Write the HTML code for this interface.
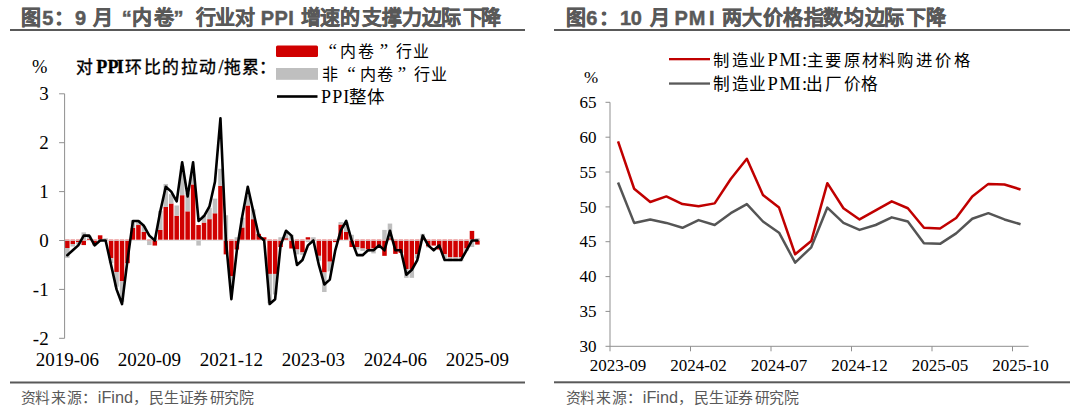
<!DOCTYPE html>
<html lang="zh-CN"><head><meta charset="utf-8">
<style>
html,body{margin:0;padding:0;background:#fff;}
body{width:1080px;height:415px;overflow:hidden;position:relative;}
svg{position:absolute;left:0;top:0;}
.t{font-family:"Liberation Sans",sans-serif;font-weight:bold;fill:#595959;}
.s{font-family:"Liberation Serif",serif;fill:#000;}
.f{font-family:"Liberation Sans",sans-serif;fill:#595959;}
</style></head><body>
<svg width="1080" height="415" viewBox="0 0 1080 415">
<rect x="0" y="0" width="1080" height="415" fill="#fff"/>

<rect x="10" y="29" width="515" height="2" fill="#595959"/>
<rect x="554" y="29" width="516" height="2" fill="#595959"/>
<rect x="10" y="381.5" width="515" height="2" fill="#595959"/>
<rect x="554" y="381.3" width="516" height="2" fill="#595959"/>
<rect x="65.08" y="239.70" width="4.5" height="8.31" fill="#d00000"/>
<rect x="65.08" y="248.01" width="4.5" height="9.78" fill="#bfbfbf"/>
<rect x="70.55" y="239.70" width="4.5" height="4.40" fill="#d00000"/>
<rect x="70.55" y="244.10" width="4.5" height="2.45" fill="#bfbfbf"/>
<rect x="76.02" y="239.70" width="4.5" height="2.45" fill="#d00000"/>
<rect x="76.02" y="242.14" width="4.5" height="2.45" fill="#bfbfbf"/>
<rect x="81.49" y="239.70" width="4.5" height="5.38" fill="#d00000"/>
<rect x="81.49" y="232.36" width="4.5" height="7.33" fill="#bfbfbf"/>
<rect x="86.96" y="238.72" width="4.5" height="0.98" fill="#d00000"/>
<rect x="86.96" y="235.79" width="4.5" height="2.93" fill="#bfbfbf"/>
<rect x="92.42" y="239.70" width="4.5" height="4.89" fill="#d00000"/>
<rect x="92.42" y="244.59" width="4.5" height="0.98" fill="#bfbfbf"/>
<rect x="97.89" y="235.30" width="4.5" height="4.40" fill="#d00000"/>
<rect x="97.89" y="239.70" width="4.5" height="1.96" fill="#bfbfbf"/>
<rect x="103.36" y="239.70" width="4.5" height="0.98" fill="#d00000"/>
<rect x="103.36" y="238.23" width="4.5" height="1.47" fill="#bfbfbf"/>
<rect x="108.83" y="239.70" width="4.5" height="18.58" fill="#d00000"/>
<rect x="108.83" y="258.28" width="4.5" height="4.89" fill="#bfbfbf"/>
<rect x="114.30" y="239.70" width="4.5" height="32.27" fill="#d00000"/>
<rect x="114.30" y="271.97" width="4.5" height="14.67" fill="#bfbfbf"/>
<rect x="119.76" y="239.70" width="4.5" height="41.56" fill="#d00000"/>
<rect x="119.76" y="281.26" width="4.5" height="20.54" fill="#bfbfbf"/>
<rect x="125.23" y="239.70" width="4.5" height="23.47" fill="#d00000"/>
<rect x="125.23" y="239.70" width="4.5" height="0.00" fill="#bfbfbf"/>
<rect x="130.70" y="227.96" width="4.5" height="11.74" fill="#d00000"/>
<rect x="130.70" y="220.14" width="4.5" height="7.82" fill="#bfbfbf"/>
<rect x="136.17" y="225.03" width="4.5" height="14.67" fill="#d00000"/>
<rect x="136.17" y="220.14" width="4.5" height="4.89" fill="#bfbfbf"/>
<rect x="141.64" y="231.88" width="4.5" height="7.82" fill="#d00000"/>
<rect x="141.64" y="226.01" width="4.5" height="5.87" fill="#bfbfbf"/>
<rect x="147.10" y="239.70" width="4.5" height="1.47" fill="#d00000"/>
<rect x="147.10" y="241.17" width="4.5" height="3.91" fill="#bfbfbf"/>
<rect x="152.57" y="239.70" width="4.5" height="5.87" fill="#d00000"/>
<rect x="152.57" y="238.23" width="4.5" height="1.47" fill="#bfbfbf"/>
<rect x="158.04" y="229.92" width="4.5" height="9.78" fill="#d00000"/>
<rect x="158.04" y="210.85" width="4.5" height="19.07" fill="#bfbfbf"/>
<rect x="163.51" y="206.94" width="4.5" height="32.76" fill="#d00000"/>
<rect x="163.51" y="183.95" width="4.5" height="22.98" fill="#bfbfbf"/>
<rect x="168.98" y="203.51" width="4.5" height="36.19" fill="#d00000"/>
<rect x="168.98" y="194.22" width="4.5" height="9.29" fill="#bfbfbf"/>
<rect x="174.44" y="215.74" width="4.5" height="23.96" fill="#d00000"/>
<rect x="174.44" y="205.47" width="4.5" height="10.27" fill="#bfbfbf"/>
<rect x="179.91" y="195.20" width="4.5" height="44.50" fill="#d00000"/>
<rect x="179.91" y="165.86" width="4.5" height="29.34" fill="#bfbfbf"/>
<rect x="185.38" y="211.34" width="4.5" height="28.36" fill="#d00000"/>
<rect x="185.38" y="192.76" width="4.5" height="18.58" fill="#bfbfbf"/>
<rect x="190.85" y="184.44" width="4.5" height="55.26" fill="#d00000"/>
<rect x="190.85" y="173.69" width="4.5" height="10.76" fill="#bfbfbf"/>
<rect x="196.32" y="225.03" width="4.5" height="14.67" fill="#d00000"/>
<rect x="196.32" y="239.70" width="4.5" height="5.87" fill="#bfbfbf"/>
<rect x="201.78" y="222.58" width="4.5" height="17.11" fill="#d00000"/>
<rect x="201.78" y="215.25" width="4.5" height="7.33" fill="#bfbfbf"/>
<rect x="207.25" y="219.16" width="4.5" height="20.54" fill="#d00000"/>
<rect x="207.25" y="207.91" width="4.5" height="11.25" fill="#bfbfbf"/>
<rect x="212.72" y="213.29" width="4.5" height="26.41" fill="#d00000"/>
<rect x="212.72" y="198.62" width="4.5" height="14.67" fill="#bfbfbf"/>
<rect x="218.19" y="185.91" width="4.5" height="53.79" fill="#d00000"/>
<rect x="218.19" y="168.79" width="4.5" height="17.11" fill="#bfbfbf"/>
<rect x="223.66" y="239.70" width="4.5" height="14.67" fill="#d00000"/>
<rect x="223.66" y="215.25" width="4.5" height="24.45" fill="#bfbfbf"/>
<rect x="229.12" y="239.70" width="4.5" height="36.67" fill="#d00000"/>
<rect x="229.12" y="276.38" width="4.5" height="9.78" fill="#bfbfbf"/>
<rect x="234.59" y="239.70" width="4.5" height="9.78" fill="#d00000"/>
<rect x="234.59" y="237.25" width="4.5" height="2.45" fill="#bfbfbf"/>
<rect x="240.06" y="227.47" width="4.5" height="12.22" fill="#d00000"/>
<rect x="240.06" y="217.69" width="4.5" height="9.78" fill="#bfbfbf"/>
<rect x="245.53" y="205.47" width="4.5" height="34.23" fill="#d00000"/>
<rect x="245.53" y="195.69" width="4.5" height="9.78" fill="#bfbfbf"/>
<rect x="251.00" y="219.16" width="4.5" height="20.54" fill="#d00000"/>
<rect x="251.00" y="209.38" width="4.5" height="9.78" fill="#bfbfbf"/>
<rect x="256.46" y="233.83" width="4.5" height="5.87" fill="#d00000"/>
<rect x="256.46" y="233.83" width="4.5" height="0.00" fill="#bfbfbf"/>
<rect x="261.93" y="237.25" width="4.5" height="2.45" fill="#d00000"/>
<rect x="261.93" y="237.25" width="4.5" height="0.00" fill="#bfbfbf"/>
<rect x="267.40" y="239.70" width="4.5" height="34.23" fill="#d00000"/>
<rect x="267.40" y="273.93" width="4.5" height="29.34" fill="#bfbfbf"/>
<rect x="272.87" y="239.70" width="4.5" height="34.23" fill="#d00000"/>
<rect x="272.87" y="273.93" width="4.5" height="20.54" fill="#bfbfbf"/>
<rect x="278.34" y="239.70" width="4.5" height="7.33" fill="#d00000"/>
<rect x="278.34" y="237.25" width="4.5" height="2.45" fill="#bfbfbf"/>
<rect x="283.80" y="238.23" width="4.5" height="1.47" fill="#d00000"/>
<rect x="283.80" y="231.88" width="4.5" height="6.36" fill="#bfbfbf"/>
<rect x="289.27" y="239.70" width="4.5" height="8.80" fill="#d00000"/>
<rect x="289.27" y="234.81" width="4.5" height="4.89" fill="#bfbfbf"/>
<rect x="294.74" y="239.70" width="4.5" height="9.78" fill="#d00000"/>
<rect x="294.74" y="249.48" width="4.5" height="4.89" fill="#bfbfbf"/>
<rect x="300.21" y="239.70" width="4.5" height="12.71" fill="#d00000"/>
<rect x="300.21" y="252.41" width="4.5" height="2.45" fill="#bfbfbf"/>
<rect x="305.68" y="237.25" width="4.5" height="2.45" fill="#d00000"/>
<rect x="305.68" y="239.70" width="4.5" height="2.45" fill="#bfbfbf"/>
<rect x="311.14" y="239.70" width="4.5" height="0.98" fill="#d00000"/>
<rect x="311.14" y="237.25" width="4.5" height="2.45" fill="#bfbfbf"/>
<rect x="316.61" y="239.70" width="4.5" height="16.14" fill="#d00000"/>
<rect x="316.61" y="255.84" width="4.5" height="4.89" fill="#bfbfbf"/>
<rect x="322.08" y="239.70" width="4.5" height="32.76" fill="#d00000"/>
<rect x="322.08" y="272.46" width="4.5" height="19.56" fill="#bfbfbf"/>
<rect x="327.55" y="239.70" width="4.5" height="22.00" fill="#d00000"/>
<rect x="327.55" y="261.70" width="4.5" height="9.78" fill="#bfbfbf"/>
<rect x="333.02" y="239.70" width="4.5" height="2.45" fill="#d00000"/>
<rect x="333.02" y="239.70" width="4.5" height="0.00" fill="#bfbfbf"/>
<rect x="338.48" y="224.54" width="4.5" height="15.16" fill="#d00000"/>
<rect x="338.48" y="222.10" width="4.5" height="2.45" fill="#bfbfbf"/>
<rect x="343.95" y="231.88" width="4.5" height="7.82" fill="#d00000"/>
<rect x="343.95" y="222.10" width="4.5" height="9.78" fill="#bfbfbf"/>
<rect x="349.42" y="239.70" width="4.5" height="7.33" fill="#d00000"/>
<rect x="349.42" y="234.81" width="4.5" height="4.89" fill="#bfbfbf"/>
<rect x="354.89" y="239.70" width="4.5" height="7.33" fill="#d00000"/>
<rect x="354.89" y="247.03" width="4.5" height="2.45" fill="#bfbfbf"/>
<rect x="360.36" y="239.70" width="4.5" height="8.80" fill="#d00000"/>
<rect x="360.36" y="248.50" width="4.5" height="2.45" fill="#bfbfbf"/>
<rect x="365.82" y="239.70" width="4.5" height="9.78" fill="#d00000"/>
<rect x="365.82" y="249.48" width="4.5" height="2.45" fill="#bfbfbf"/>
<rect x="371.29" y="239.70" width="4.5" height="8.80" fill="#d00000"/>
<rect x="371.29" y="248.50" width="4.5" height="4.89" fill="#bfbfbf"/>
<rect x="376.76" y="239.70" width="4.5" height="7.33" fill="#d00000"/>
<rect x="376.76" y="239.70" width="4.5" height="0.00" fill="#bfbfbf"/>
<rect x="382.23" y="239.70" width="4.5" height="16.14" fill="#d00000"/>
<rect x="382.23" y="229.92" width="4.5" height="9.78" fill="#bfbfbf"/>
<rect x="387.70" y="238.23" width="4.5" height="1.47" fill="#d00000"/>
<rect x="387.70" y="223.56" width="4.5" height="14.67" fill="#bfbfbf"/>
<rect x="393.16" y="239.70" width="4.5" height="14.18" fill="#d00000"/>
<rect x="393.16" y="239.70" width="4.5" height="0.00" fill="#bfbfbf"/>
<rect x="398.63" y="239.70" width="4.5" height="13.20" fill="#d00000"/>
<rect x="398.63" y="239.70" width="4.5" height="0.00" fill="#bfbfbf"/>
<rect x="404.10" y="239.70" width="4.5" height="29.34" fill="#d00000"/>
<rect x="404.10" y="269.04" width="4.5" height="8.80" fill="#bfbfbf"/>
<rect x="409.57" y="239.70" width="4.5" height="29.34" fill="#d00000"/>
<rect x="409.57" y="269.04" width="4.5" height="8.80" fill="#bfbfbf"/>
<rect x="415.04" y="239.70" width="4.5" height="14.67" fill="#d00000"/>
<rect x="415.04" y="254.37" width="4.5" height="3.91" fill="#bfbfbf"/>
<rect x="420.50" y="238.72" width="4.5" height="0.98" fill="#d00000"/>
<rect x="420.50" y="233.83" width="4.5" height="4.89" fill="#bfbfbf"/>
<rect x="425.97" y="239.70" width="4.5" height="6.85" fill="#d00000"/>
<rect x="425.97" y="246.55" width="4.5" height="0.98" fill="#bfbfbf"/>
<rect x="431.44" y="239.70" width="4.5" height="5.87" fill="#d00000"/>
<rect x="431.44" y="239.70" width="4.5" height="0.00" fill="#bfbfbf"/>
<rect x="436.91" y="239.70" width="4.5" height="9.78" fill="#d00000"/>
<rect x="436.91" y="239.70" width="4.5" height="0.00" fill="#bfbfbf"/>
<rect x="442.38" y="239.70" width="4.5" height="14.67" fill="#d00000"/>
<rect x="442.38" y="254.37" width="4.5" height="3.91" fill="#bfbfbf"/>
<rect x="447.84" y="239.70" width="4.5" height="17.60" fill="#d00000"/>
<rect x="447.84" y="257.30" width="4.5" height="3.91" fill="#bfbfbf"/>
<rect x="453.31" y="239.70" width="4.5" height="17.60" fill="#d00000"/>
<rect x="453.31" y="257.30" width="4.5" height="3.91" fill="#bfbfbf"/>
<rect x="458.78" y="239.70" width="4.5" height="17.60" fill="#d00000"/>
<rect x="458.78" y="257.30" width="4.5" height="3.91" fill="#bfbfbf"/>
<rect x="464.25" y="239.70" width="4.5" height="8.80" fill="#d00000"/>
<rect x="464.25" y="248.50" width="4.5" height="2.45" fill="#bfbfbf"/>
<rect x="469.72" y="230.90" width="4.5" height="8.80" fill="#d00000"/>
<rect x="469.72" y="239.70" width="4.5" height="7.33" fill="#bfbfbf"/>
<rect x="475.18" y="239.70" width="4.5" height="4.89" fill="#d00000"/>
<rect x="475.18" y="238.23" width="4.5" height="1.47" fill="#bfbfbf"/>
<line x1="64.6" y1="240.5" x2="480.2" y2="240.5" stroke="#d9d9d9" stroke-width="0.8"/>
<line x1="64.6" y1="93.8" x2="64.6" y2="338.3" stroke="#8f8f8f" stroke-width="1"/>
<line x1="59.099999999999994" y1="93.8" x2="64.6" y2="93.8" stroke="#8f8f8f" stroke-width="1"/>
<text class="s" x="48.7" y="100.2" font-size="19" text-anchor="end">3</text>
<line x1="59.099999999999994" y1="142.7" x2="64.6" y2="142.7" stroke="#8f8f8f" stroke-width="1"/>
<text class="s" x="48.7" y="149.1" font-size="19" text-anchor="end">2</text>
<line x1="59.099999999999994" y1="191.6" x2="64.6" y2="191.6" stroke="#8f8f8f" stroke-width="1"/>
<text class="s" x="48.7" y="198.0" font-size="19" text-anchor="end">1</text>
<line x1="59.099999999999994" y1="240.5" x2="64.6" y2="240.5" stroke="#8f8f8f" stroke-width="1"/>
<text class="s" x="48.7" y="246.9" font-size="19" text-anchor="end">0</text>
<line x1="59.099999999999994" y1="289.4" x2="64.6" y2="289.4" stroke="#8f8f8f" stroke-width="1"/>
<text class="s" x="48.7" y="295.8" font-size="19" text-anchor="end">-1</text>
<line x1="59.099999999999994" y1="338.3" x2="64.6" y2="338.3" stroke="#8f8f8f" stroke-width="1"/>
<text class="s" x="48.7" y="344.7" font-size="19" text-anchor="end">-2</text>
<text class="s" x="32" y="73" font-size="18.5">%</text>
<polyline points="67.33,255.17 72.80,250.28 78.27,245.39 83.74,235.61 89.21,235.61 94.67,245.39 100.14,240.50 105.61,240.50 111.08,264.95 116.55,289.40 122.01,304.07 127.48,260.06 132.95,220.94 138.42,220.94 143.89,225.83 149.35,235.61 154.82,240.50 160.29,211.16 165.76,186.71 171.23,191.60 176.69,201.38 182.16,162.26 187.63,196.49 193.10,162.26 198.57,220.94 204.03,216.05 209.50,206.27 214.97,181.82 220.44,118.25 225.91,240.50 231.37,299.18 236.84,250.28 242.31,216.05 247.78,186.71 253.25,211.16 258.71,235.61 264.18,240.50 269.65,304.07 275.12,299.18 280.59,245.39 286.05,230.72 291.52,235.61 296.99,264.95 302.46,260.06 307.93,245.39 313.39,240.50 318.86,264.95 324.33,284.51 329.80,279.62 335.27,250.28 340.73,230.72 346.20,220.94 351.67,240.50 357.14,255.17 362.61,255.17 368.07,250.28 373.54,250.28 379.01,245.39 384.48,250.28 389.95,230.72 395.41,250.28 400.88,250.28 406.35,274.73 411.82,269.84 417.29,260.06 422.75,235.61 428.22,245.39 433.69,250.28 439.16,245.39 444.63,260.06 450.09,260.06 455.56,260.06 461.03,260.06 466.50,250.28 471.97,240.50 477.43,240.50" fill="none" stroke="#000" stroke-width="2.6" stroke-linejoin="round" stroke-linecap="round"/>
<text class="s" x="67.3" y="366" font-size="19" text-anchor="middle">2019-06</text>
<text class="s" x="149.4" y="366" font-size="19" text-anchor="middle">2020-09</text>
<text class="s" x="231.4" y="366" font-size="19" text-anchor="middle">2021-12</text>
<text class="s" x="313.4" y="366" font-size="19" text-anchor="middle">2023-03</text>
<text class="s" x="395.4" y="366" font-size="19" text-anchor="middle">2024-06</text>
<text class="s" x="477.4" y="366" font-size="19" text-anchor="middle">2025-09</text>
<rect x="276" y="45.4" width="42" height="11.5" rx="1.5" fill="#d00000"/>
<rect x="276" y="68" width="42" height="11.8" fill="#bfbfbf"/>
<rect x="277" y="95.2" width="40.5" height="2.6" fill="#000"/>
<line x1="610.0" y1="102.3" x2="610.0" y2="346.3" stroke="#8f8f8f" stroke-width="1"/>
<line x1="610.0" y1="346.3" x2="1028.6" y2="346.3" stroke="#8f8f8f" stroke-width="1"/>
<line x1="605.5" y1="346.3" x2="610.0" y2="346.3" stroke="#8f8f8f" stroke-width="1"/>
<text class="s" x="596.5" y="352.0" font-size="17" text-anchor="end">30</text>
<line x1="605.5" y1="311.4" x2="610.0" y2="311.4" stroke="#8f8f8f" stroke-width="1"/>
<text class="s" x="596.5" y="317.1" font-size="17" text-anchor="end">35</text>
<line x1="605.5" y1="276.6" x2="610.0" y2="276.6" stroke="#8f8f8f" stroke-width="1"/>
<text class="s" x="596.5" y="282.3" font-size="17" text-anchor="end">40</text>
<line x1="605.5" y1="241.7" x2="610.0" y2="241.7" stroke="#8f8f8f" stroke-width="1"/>
<text class="s" x="596.5" y="247.4" font-size="17" text-anchor="end">45</text>
<line x1="605.5" y1="206.9" x2="610.0" y2="206.9" stroke="#8f8f8f" stroke-width="1"/>
<text class="s" x="596.5" y="212.6" font-size="17" text-anchor="end">50</text>
<line x1="605.5" y1="172.0" x2="610.0" y2="172.0" stroke="#8f8f8f" stroke-width="1"/>
<text class="s" x="596.5" y="177.7" font-size="17" text-anchor="end">55</text>
<line x1="605.5" y1="137.2" x2="610.0" y2="137.2" stroke="#8f8f8f" stroke-width="1"/>
<text class="s" x="596.5" y="142.9" font-size="17" text-anchor="end">60</text>
<line x1="605.5" y1="102.3" x2="610.0" y2="102.3" stroke="#8f8f8f" stroke-width="1"/>
<text class="s" x="596.5" y="108.0" font-size="17" text-anchor="end">65</text>
<line x1="610.0" y1="346.3" x2="610.0" y2="351.3" stroke="#8f8f8f" stroke-width="1"/>
<line x1="690.5" y1="346.3" x2="690.5" y2="351.3" stroke="#8f8f8f" stroke-width="1"/>
<line x1="771.0" y1="346.3" x2="771.0" y2="351.3" stroke="#8f8f8f" stroke-width="1"/>
<line x1="851.5" y1="346.3" x2="851.5" y2="351.3" stroke="#8f8f8f" stroke-width="1"/>
<line x1="932.0" y1="346.3" x2="932.0" y2="351.3" stroke="#8f8f8f" stroke-width="1"/>
<line x1="1012.5" y1="346.3" x2="1012.5" y2="351.3" stroke="#8f8f8f" stroke-width="1"/>
<text class="s" x="618.0" y="370.5" font-size="17" text-anchor="middle">2023-09</text>
<text class="s" x="698.5" y="370.5" font-size="17" text-anchor="middle">2024-02</text>
<text class="s" x="779.0" y="370.5" font-size="17" text-anchor="middle">2024-07</text>
<text class="s" x="859.5" y="370.5" font-size="17" text-anchor="middle">2024-12</text>
<text class="s" x="940.0" y="370.5" font-size="17" text-anchor="middle">2025-05</text>
<text class="s" x="1020.5" y="370.5" font-size="17" text-anchor="middle">2025-10</text>
<text class="s" x="584" y="83" font-size="17">%</text>
<polyline points="618.05,182.48 634.15,222.91 650.25,219.43 666.35,222.91 682.45,227.79 698.55,220.12 714.65,225.00 730.75,213.15 746.85,204.09 762.95,221.52 779.05,232.67 795.15,262.65 811.25,247.31 827.35,207.58 843.45,222.91 859.55,229.88 875.65,225.00 891.75,217.34 907.85,221.52 923.95,243.13 940.05,243.83 956.15,233.37 972.25,218.73 988.35,213.15 1004.45,219.43 1020.55,224.31" fill="none" stroke="#555555" stroke-width="2.5" stroke-linejoin="round"/>
<polyline points="618.05,141.35 634.15,188.76 650.25,202.00 666.35,196.42 682.45,204.09 698.55,206.18 714.65,203.39 730.75,179.00 746.85,158.78 762.95,195.03 779.05,207.58 795.15,254.28 811.25,241.04 827.35,183.18 843.45,208.27 859.55,219.43 875.65,210.37 891.75,201.30 907.85,208.27 923.95,227.79 940.05,228.49 956.15,218.03 972.25,196.42 988.35,183.88 1004.45,184.57 1020.55,189.45" fill="none" stroke="#c00000" stroke-width="2.5" stroke-linejoin="round"/>
<rect x="669" y="58" width="41" height="2.3" fill="#c00000"/>
<rect x="669" y="82.4" width="41" height="2.3" fill="#595959"/>
<text x="20.70 42.15 53.90 75.00 93.00 121.70 132.15 153.75 173.60 195.60 214.80 235.40 260.70 274.40 288.20 300.85 320.20 339.85 361.90 381.90 401.50 421.90 441.10 462.50 481.30" y="24.90" font-family="Liberation Sans" font-size="20.00" font-weight="bold" fill="#595959" stroke="#595959" stroke-width="0.45">图5：9月“内卷”行业对PPI增速的支撑力边际下降</text>
<text x="565.70 586.30 598.90 620.05 630.65 650.00 674.40 688.80 709.10 721.70 742.30 762.80 783.00 803.55 822.80 843.55 865.00 884.20 905.65 925.70" y="24.90" font-family="Liberation Sans" font-size="20.00" font-weight="bold" fill="#595959" stroke="#595959" stroke-width="0.45">图6：10月PMI两大价格指数均边际下降</text>
<text x="20.65 35.15 51.45 67.05 82.47" y="403.26" font-family="Liberation Sans" font-size="14.89" font-weight="normal" fill="#595959">资料来源：</text>
<text x="97.77 101.39 111.35 114.97 124.04" y="403.26" font-family="Liberation Sans" font-size="16.30" font-weight="normal" fill="#595959">iFind</text>
<text x="133.06 148.96 163.66 179.26 193.30 209.55 223.66 238.96" y="403.26" font-family="Liberation Sans" font-size="14.89" font-weight="normal" fill="#595959">，民生证券研究院</text>
<text x="76.42" y="73.35" font-family="Liberation Serif" font-size="16.88" font-weight="normal" fill="#000" stroke="#000" stroke-width="0.35">对</text>
<text x="96.32 107.42 116.86" y="73.35" font-family="Liberation Serif" font-size="18.00" font-weight="bold" fill="#000" stroke="#000" stroke-width="0.35">PPI</text>
<text x="125.19 143.75 162.35 181.32 198.76" y="73.35" font-family="Liberation Serif" font-size="16.88" font-weight="normal" fill="#000" stroke="#000" stroke-width="0.35">环比的拉动</text>
<text x="218.60" y="73.35" font-family="Liberation Serif" font-size="18.00" font-weight="normal" fill="#000" stroke="#000" stroke-width="0.35">/</text>
<text x="224.26 242.26 259.23" y="73.35" font-family="Liberation Serif" font-size="16.88" font-weight="normal" fill="#000" stroke="#000" stroke-width="0.35">拖累：</text>
<text x="328.49" y="57.16" font-family="Liberation Serif" font-size="19.00" font-weight="normal" fill="#000">“</text>
<text x="340.31 358.12" y="57.16" font-family="Liberation Serif" font-size="15.96" font-weight="normal" fill="#000">内卷</text>
<text x="379.74" y="57.16" font-family="Liberation Serif" font-size="19.00" font-weight="normal" fill="#000">”</text>
<text x="395.68 413.29" y="57.16" font-family="Liberation Serif" font-size="15.96" font-weight="normal" fill="#000">行业</text>
<text x="321.60" y="79.65" font-family="Liberation Serif" font-size="16.06" font-weight="normal" fill="#000">非</text>
<text x="347.24" y="79.65" font-family="Liberation Serif" font-size="19.00" font-weight="normal" fill="#000">“</text>
<text x="359.55 376.92" y="79.65" font-family="Liberation Serif" font-size="16.06" font-weight="normal" fill="#000">内卷</text>
<text x="397.84" y="79.65" font-family="Liberation Serif" font-size="19.00" font-weight="normal" fill="#000">”</text>
<text x="413.93 431.44" y="79.65" font-family="Liberation Serif" font-size="16.06" font-weight="normal" fill="#000">行业</text>
<text x="320.89 332.14 343.21" y="102.75" font-family="Liberation Serif" font-size="18.00" font-weight="normal" fill="#000">PPI</text>
<text x="349.48 366.98" y="102.75" font-family="Liberation Serif" font-size="17.50" font-weight="normal" fill="#000">整体</text>
<text x="713.40 731.84 749.44" y="65.73" font-family="Liberation Serif" font-size="16.38" font-weight="normal" fill="#000">制造业</text>
<text x="767.43 779.33 794.45 801.91" y="65.73" font-family="Liberation Serif" font-size="18.50" font-weight="normal" fill="#000">PMI:</text>
<text x="807.29 825.44 844.08 862.14 879.07 897.16 915.62 935.27 953.83" y="65.73" font-family="Liberation Serif" font-size="16.38" font-weight="normal" fill="#000">主要原材料购进价格</text>
<text x="713.23 731.66 749.26" y="89.50" font-family="Liberation Serif" font-size="16.70" font-weight="normal" fill="#000">制造业</text>
<text x="767.43 779.33 794.45 801.91" y="89.50" font-family="Liberation Serif" font-size="18.50" font-weight="normal" fill="#000">PMI:</text>
<text x="805.98 825.00 843.50 861.46" y="89.50" font-family="Liberation Serif" font-size="16.70" font-weight="normal" fill="#000">出厂价格</text>
<text x="565.65 580.15 596.45 612.05 627.47" y="403.26" font-family="Liberation Sans" font-size="14.89" font-weight="normal" fill="#595959">资料来源：</text>
<text x="642.77 646.39 656.35 659.97 669.04" y="403.26" font-family="Liberation Sans" font-size="16.30" font-weight="normal" fill="#595959">iFind</text>
<text x="678.06 693.96 708.66 724.26 738.30 754.55 768.66 783.96" y="403.26" font-family="Liberation Sans" font-size="14.89" font-weight="normal" fill="#595959">，民生证券研究院</text>
</svg></body></html>
